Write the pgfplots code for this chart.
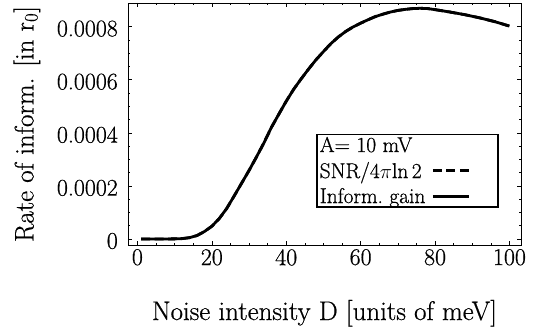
\documentclass[border=0pt]{standalone}
\usepackage{fontspec}
\setmainfont{Latin Modern Roman}[FakeBold=0.6]
\usepackage{pgfplots}
\pgfplotsset{compat=1.18}
\pgfplotstableread{
D y
1 0
6 0
10 0.0000005
12 0.0000015
14 0.000005
16 0.000013
18 0.000028
20 0.000048
22 0.000077
24 0.000115
26 0.000162
28 0.000210
30 0.000258
32 0.000309
34 0.000362
36 0.000420
38 0.000470
40 0.000519
42 0.000564
44 0.000603
46 0.000640
48 0.000675
50 0.000706
52 0.000736
54 0.000761
56 0.000782
58 0.000799
60 0.000813
62 0.000826
64 0.000838
66 0.000847
68 0.000855
70 0.000861
72 0.000865
74 0.000868
76 0.000869
78 0.000868
80 0.000864
84 0.000855
88 0.000845
92 0.000833
96 0.000819
100 0.000802
}\datatable
\begin{document}
\begin{tikzpicture}
\path[use as bounding box] (-128bp,-83bp) rectangle (413bp,245bp);
\begin{axis}[
  at={(0,0)}, anchor=south west,
  scale only axis, width=393bp, height=242bp,
  xmin=-2.53, xmax=103.1, ymin=-0.0000226, ymax=0.000889,
  xtick={0,20,40,60,80,100}, xticklabels={0,20,40,60,80,100},
  ytick={0,0.0002,0.0004,0.0006,0.0008},
  yticklabels={0,0.0002,0.0004,0.0006,0.0008},
  scaled y ticks=false,
  minor x tick num=3, minor y tick num=3,
  tick align=inside, major tick length=4bp, minor tick length=2bp,
  tick style={black, line width=0.6bp},
  axis line style={line width=0.8bp},
  ticklabel style={font=\fontsize{24}{28}\selectfont},
  xticklabel style={anchor=north, inner sep=0pt, yshift=-4bp},
  yticklabel style={anchor=east, inner sep=0pt, xshift=-10bp, yshift=-2bp},
  xlabel={Noise intensity D [units of meV]},
  ylabel={Rate of inform. [in r\textsubscript{0}]},
  label style={font=\fontsize{27}{31}\selectfont, inner sep=0pt},
  xlabel style={at={(axis description cs:0.5,-0.31)}, anchor=base},
  ylabel style={at={(axis description cs:-0.2405,0.5)}, anchor=base},
  legend plot pos=right,
  legend cell align=left,
  legend image code/.code={\path[draw=none, fill=none] (0bp,0bp) -- (62bp,0bp); \draw[#1] (0bp,0bp) -- (36bp,0bp);},
  legend style={at={(axis description cs:0.4784,0.4603)}, anchor=north west,
    font=\fontsize{21.5}{25}\selectfont, draw=black, line width=1.5bp, fill=white,
    inner xsep=3bp, inner ysep=2.5bp, row sep=8.5bp, column sep=6bp,
    cells={anchor=west, inner sep=0pt}, nodes={inner sep=0pt}},
]
\addplot[black, line width=2.8bp, forget plot] table[x=D, y=y] {\datatable};
\addplot[black, line width=2.8bp, dash pattern=on 9bp off 4.5bp, forget plot] table[x=D, y=y] {\datatable};
\addlegendimage{empty legend}
\addlegendentry{A= 10 mV}
\addlegendimage{black, line width=3bp, dash pattern=on 9bp off 4.5bp}
\addlegendentry{SNR/4$\pi$ln\,2}
\addlegendimage{black, line width=3bp}
\addlegendentry{Inform.\ gain}
\end{axis}
\end{tikzpicture}
\end{document}
